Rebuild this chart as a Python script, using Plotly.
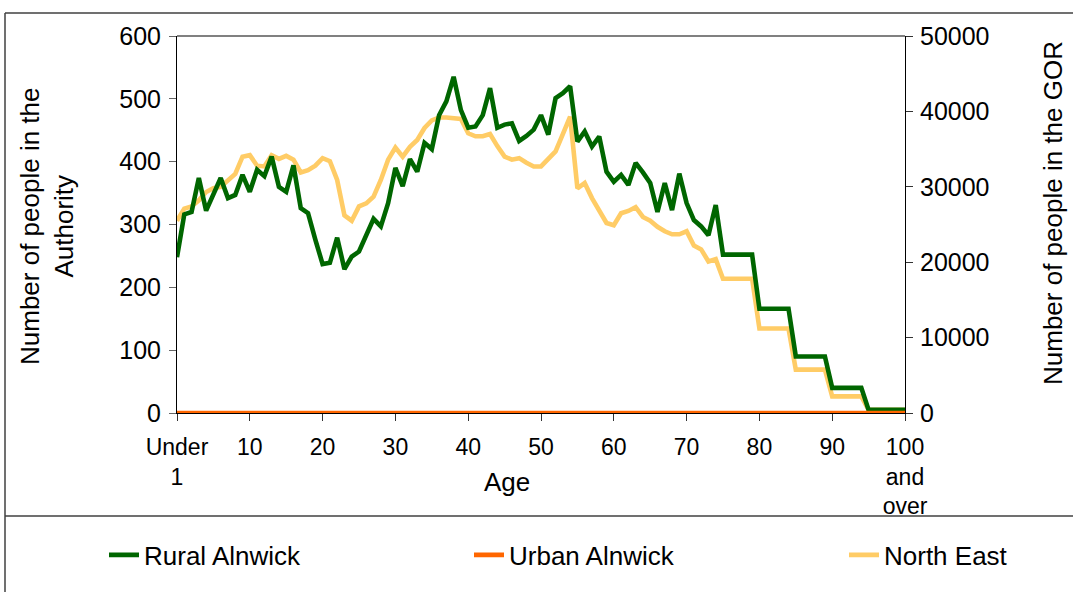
import plotly.graph_objects as go

ages = list(range(0, 101))

tick_vals = [0, 10, 20, 30, 40, 50, 60, 70, 80, 90, 100]
tick_text = ["Under<br>1", "10", "20", "30", "40", "50", "60", "70", "80", "90", "100<br>and<br>over"]

rural_alnwick = [
    248, 316, 320, 374, 322, 347, 374, 342, 347, 379,
    352, 387, 377, 408, 360, 352, 394, 326, 318, 276,
    237, 239, 279, 229, 249, 257, 281, 309, 297, 334,
    390, 361, 404, 384, 430, 420, 474, 496, 535, 482,
    454, 456, 474, 517, 454, 459, 461, 433, 441, 451,
    474, 443, 501, 509, 520, 432, 448, 424, 440, 384,
    368, 379, 363, 398, 383, 366, 320, 366, 323, 381,
    334, 307, 297, 283, 331, 252, 252, 252, 252, 252,
    166, 166, 166, 166, 166, 90, 90, 90, 90, 90,
    40, 40, 40, 40, 40, 5, 5, 5, 5, 5,
    5,
]

urban_alnwick = [
    0, 0, 0, 0, 0, 0, 0, 0, 0, 0,
    0, 0, 0, 0, 0, 0, 0, 0, 0, 0,
    0, 0, 0, 0, 0, 0, 0, 0, 0, 0,
    0, 0, 0, 0, 0, 0, 0, 0, 0, 0,
    0, 0, 0, 0, 0, 0, 0, 0, 0, 0,
    0, 0, 0, 0, 0, 0, 0, 0, 0, 0,
    0, 0, 0, 0, 0, 0, 0, 0, 0, 0,
    0, 0, 0, 0, 0, 0, 0, 0, 0, 0,
    0, 0, 0, 0, 0, 0, 0, 0, 0, 0,
    0, 0, 0, 0, 0, 0, 0, 0, 0, 0,
    0,
]

north_east = [
    25500, 27100, 27400, 28200, 29300, 29800, 30000, 30800, 31700, 34000,
    34200, 32800, 32700, 34200, 33700, 34100, 33600, 31900, 32200, 32800,
    33800, 33400, 30900, 26200, 25500, 27400, 27800, 28700, 30900, 33600,
    35200, 34000, 35300, 36200, 37800, 38800, 39200, 39200, 39100, 39000,
    37100, 36700, 36700, 37000, 35400, 34000, 33600, 33800, 33200, 32700,
    32700, 33700, 34700, 37000, 39300, 29800, 30500, 28500, 26800, 25200,
    24900, 26500, 26800, 27300, 26000, 25500, 24700, 24100, 23700, 23700,
    24100, 22200, 21700, 20100, 20400, 17800, 17800, 17800, 17800, 17800,
    11200, 11200, 11200, 11200, 11200, 5750, 5750, 5750, 5750, 5750,
    2200, 2200, 2200, 2200, 2200, 420, 420, 420, 420, 420,
    420,
]

FONT = "Liberation Sans, Arial, sans-serif"
FS_TITLE = 26
FS_YTICK = 25
FS_XTICK = 23
FS_LEG = 26
LW = 4.6

fig = go.Figure()
fig.add_trace(go.Scatter(x=ages, y=rural_alnwick, name="Rural Alnwick", mode="lines",
                         line=dict(color="#006600", width=LW), yaxis="y2", legend="legend"))
fig.add_trace(go.Scatter(x=ages, y=urban_alnwick, name="Urban Alnwick", mode="lines",
                         line=dict(color="#FF6600", width=LW), yaxis="y2", legend="legend2"))
fig.add_trace(go.Scatter(x=ages, y=north_east, name="North East", mode="lines",
                         line=dict(color="#FFCC66", width=LW), yaxis="y", legend="legend3"))

W, H = 1073, 592
L, R, T, B = 177, 168, 36, 179
PW, PH = W - L - R, H - T - B

def px(xp):
    return (xp - L) / PW

def py(yp):
    return (H - B - yp) / PH

def leg(xpix):
    return dict(orientation="h", x=px(xpix), xanchor="left", y=py(555), yanchor="middle",
                font=dict(size=FS_LEG), bgcolor="rgba(0,0,0,0)")

fig.update_layout(
    width=W, height=H,
    margin=dict(l=L, r=R, t=T, b=B),
    paper_bgcolor="white", plot_bgcolor="white",
    font=dict(family=FONT, size=FS_TITLE, color="black"),
    showlegend=True,
    legend=leg(104),
    legend2=leg(469),
    legend3=leg(844),
    xaxis=dict(range=[0, 100], tickvals=tick_vals, ticktext=tick_text,
               showline=True, linecolor="black", linewidth=1,
               ticks="outside", ticklen=7, tickcolor="#333", showgrid=False,
               zeroline=False, tickfont=dict(size=FS_XTICK), ticklabelstandoff=6),
    yaxis=dict(side="right", range=[0, 50000], dtick=10000, tickformat="d",
               showline=True, linecolor="black", linewidth=1, ticks="outside", ticklen=7,
               tickcolor="#333", showgrid=False, zeroline=False,
               ticklabelstandoff=2, tickfont=dict(size=FS_YTICK)),
    yaxis2=dict(side="left", overlaying="y", range=[0, 600], dtick=100, showline=True,
                linecolor="black", linewidth=1, ticks="outside", ticklen=7,
                tickcolor="#666", showgrid=False, zeroline=False,
                ticklabelstandoff=3, tickfont=dict(size=FS_YTICK)),
    annotations=[
        dict(text="Number of people in the<br>Authority", x=px(47), y=py(226),
             xref="paper", yref="paper", textangle=-90, showarrow=False,
             xanchor="center", yanchor="middle", font=dict(size=FS_TITLE)),
        dict(text="Number of people in the GOR", x=px(1053), y=py(213),
             xref="paper", yref="paper", textangle=-90, showarrow=False,
             xanchor="center", yanchor="middle", font=dict(size=FS_TITLE)),
        dict(text="Age", x=px(507), y=py(482), xref="paper", yref="paper",
             showarrow=False, xanchor="center", yanchor="middle", font=dict(size=FS_TITLE)),
    ],
    shapes=[
        dict(type="line", xref="paper", yref="paper", x0=px(5), x1=px(1080),
             y0=py(13), y1=py(13), line=dict(color="#404040", width=1.5)),
        dict(type="line", xref="paper", yref="paper", x0=px(5), x1=px(5),
             y0=py(13), y1=py(600), line=dict(color="#404040", width=1.5)),
        dict(type="line", xref="paper", yref="paper", x0=px(5), x1=px(1080),
             y0=py(516), y1=py(516), line=dict(color="#404040", width=1.5)),
        dict(type="line", xref="paper", yref="paper", x0=0, x1=1,
             y0=1, y1=1, line=dict(color="#808080", width=2)),
    ],
)

fig.write_html(
    "out.html",
    config={"displayModeBar": False},
    post_script="document.body.style.margin='0';document.body.style.overflow='hidden';",
)
